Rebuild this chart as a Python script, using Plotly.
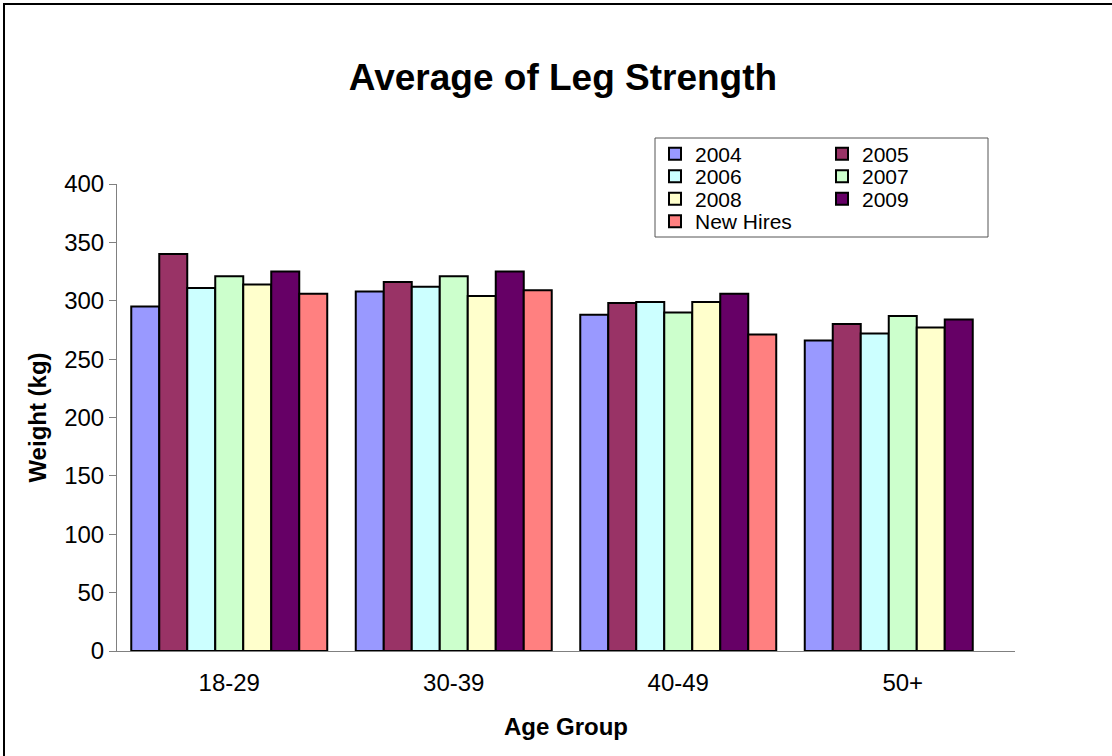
import plotly.graph_objects as go

age_groups = ["18-29", "30-39", "40-49", "50+"]
series_names = ["2004", "2005", "2006", "2007", "2008", "2009", "New Hires"]
v2004 = [295, 308, 288, 266]
v2005 = [340, 316, 298, 280]
v2006 = [311, 312, 299, 272]
v2007 = [321, 321, 290, 287]
v2008 = [314, 304, 299, 277]
v2009 = [325, 325, 306, 284]
vnew = [306, 309, 271, None]
y_ticks = [0, 50, 100, 150, 200, 250, 300, 350, 400]

colors = ["#9999FF", "#993366", "#CCFFFF", "#CCFFCC", "#FFFFCC", "#660066", "#FF8080"]
values = [v2004, v2005, v2006, v2007, v2008, v2009, vnew]

W, H = 1112, 756
L, R, T, B = 117, 97, 184, 105
pw, ph = W - L - R, H - T - B


def px_x(x):
    return (x - L) / pw


def px_y(y):
    return (H - B - y) / ph


FONT = "Liberation Sans, Arial, sans-serif"

# legend grid placement (two columns, four rows), one legend per entry
col_left = [655, 822]
row_mid = [154, 176.5, 199, 221.5]
slots = [(0, 0), (1, 0), (0, 1), (1, 1), (0, 2), (1, 2), (0, 3)]

fig = go.Figure()
legend_layouts = {}
for i, (name, vals, col) in enumerate(zip(series_names, values, colors)):
    key = "legend" if i == 0 else f"legend{i + 1}"
    fig.add_trace(go.Bar(
        x=age_groups, y=vals, name=name, legend=key,
        marker=dict(color=col, line=dict(color="black", width=2)),
    ))
    c, r = slots[i]
    legend_layouts[key] = dict(
        x=px_x(col_left[c]), y=px_y(row_mid[r]),
        xanchor="left", yanchor="middle", orientation="v",
        bgcolor="rgba(0,0,0,0)", borderwidth=0,
        font=dict(family=FONT, size=21, color="black"),
        itemclick=False, itemdoubleclick=False,
    )

shapes = [
    dict(type="rect", xref="paper", yref="paper",
         x0=px_x(655), x1=px_x(988), y0=px_y(237), y1=px_y(138),
         line=dict(color="#555555", width=1), fillcolor="rgba(0,0,0,0)", layer="below"),
    dict(type="line", xref="paper", yref="paper",
         x0=px_x(3), x1=px_x(1112), y0=px_y(4), y1=px_y(4),
         line=dict(color="black", width=2)),
    dict(type="line", xref="paper", yref="paper",
         x0=px_x(4), x1=px_x(4), y0=px_y(3), y1=px_y(756),
         line=dict(color="black", width=2)),
]

fig.update_layout(
    width=W, height=H,
    margin=dict(l=L, r=R, t=T, b=B),
    paper_bgcolor="white", plot_bgcolor="white",
    barmode="group", bargap=0.127, bargroupgap=0,
    font=dict(family=FONT, color="black"),
    title=dict(text="<b>Average of Leg Strength</b>",
               x=563 / W, xanchor="center",
               y=1 - 77 / H, yanchor="middle",
               font=dict(family=FONT, size=37, color="black")),
    xaxis=dict(
        showline=True, linecolor="#808080", linewidth=1,
        ticks="", showgrid=False,
        tickfont=dict(family=FONT, size=24, color="black"),
        ticklabelstandoff=10,
        title=dict(text="<b>Age Group</b>", standoff=23,
                   font=dict(family=FONT, size=24, color="black")),
    ),
    yaxis=dict(
        range=[0, 400], tickvals=y_ticks,
        showline=True, linecolor="#808080", linewidth=1,
        ticks="outside", ticklen=7, tickcolor="#808080",
        showgrid=False, zeroline=False,
        tickfont=dict(family=FONT, size=24, color="black"),
        ticklabelstandoff=0,
        title=dict(text="<b>Weight (kg)</b>", standoff=10,
                   font=dict(family=FONT, size=24, color="black")),
    ),
    shapes=shapes,
    showlegend=True,
    **legend_layouts,
)

fig.write_html("out.html", config={"displayModeBar": False},
               post_script="document.body.style.margin='0px';")
